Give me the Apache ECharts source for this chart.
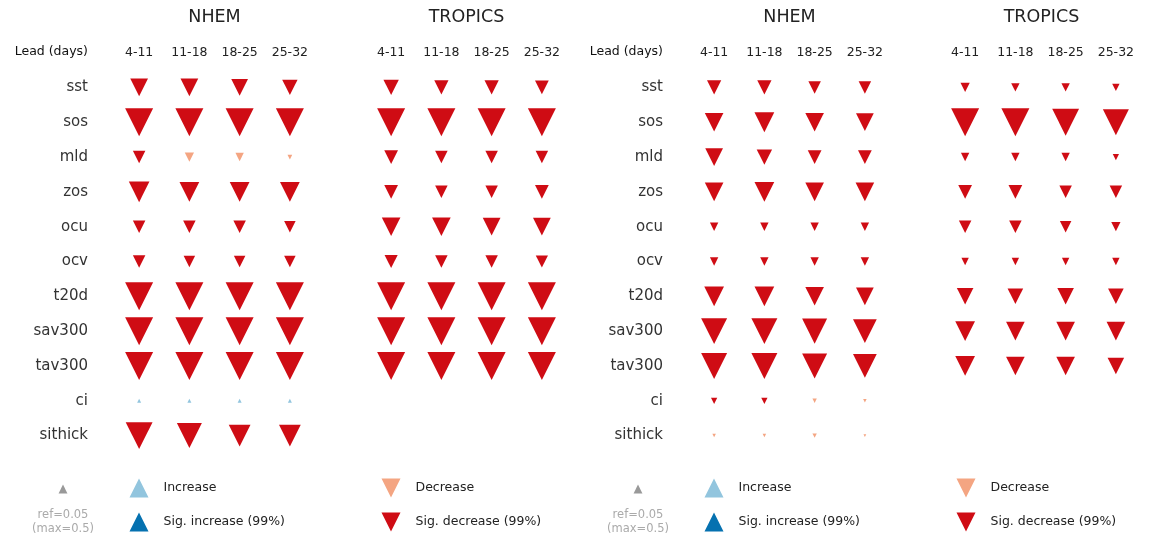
<!DOCTYPE html>
<html>
<head>
<meta charset="utf-8">
<script src="https://cdn.jsdelivr.net/npm/echarts@6/dist/echarts.min.js"></script>
<style>
  html, body { margin: 0; padding: 0; background: #ffffff; }
  #chart { width: 1168px; height: 540px; }
</style>
</head>
<body>
<div id="chart"></div>
<script>
// Forecast lead windows and the ocean / sea-ice variables tested
const leads = ['4-11', '11-18', '18-25', '25-32'];
const variables = ['sst', 'sos', 'mld', 'zos', 'ocu', 'ocv', 't20d', 'sav300', 'tav300', 'ci', 'sithick'];
const panelTitles = ['NHEM', 'TROPICS', 'NHEM', 'TROPICS'];

// Signed impact per variable (rows) and lead (columns); negative = decrease
const nhemLeft = [
  [-0.20, -0.20, -0.18, -0.15],
  [-0.50, -0.50, -0.50, -0.50],
  [-0.10, -0.055, -0.045, -0.014],
  [-0.27, -0.25, -0.25, -0.25],
  [-0.10, -0.10, -0.10, -0.085],
  [-0.10, -0.085, -0.085, -0.085],
  [-0.50, -0.50, -0.50, -0.50],
  [-0.50, -0.50, -0.50, -0.50],
  [-0.50, -0.50, -0.50, -0.50],
  [0.01, 0.01, 0.01, 0.01],
  [-0.46, -0.40, -0.30, -0.30]
];
const nhemLeftSig = [
  [1, 1, 1, 1], [1, 1, 1, 1], [1, 0, 0, 0], [1, 1, 1, 1], [1, 1, 1, 1], [1, 1, 1, 1],
  [1, 1, 1, 1], [1, 1, 1, 1], [1, 1, 1, 1], [0, 0, 0, 0], [1, 1, 1, 1]
];

const tropicsLeft = [
  [-0.15, -0.13, -0.13, -0.12],
  [-0.50, -0.50, -0.50, -0.50],
  [-0.12, -0.10, -0.10, -0.10],
  [-0.12, -0.10, -0.10, -0.12],
  [-0.22, -0.22, -0.20, -0.20],
  [-0.11, -0.10, -0.10, -0.095],
  [-0.50, -0.50, -0.50, -0.50],
  [-0.50, -0.50, -0.50, -0.50],
  [-0.50, -0.50, -0.50, -0.50],
  [null, null, null, null],
  [null, null, null, null]
];
const tropicsLeftSig = [
  [1, 1, 1, 1], [1, 1, 1, 1], [1, 1, 1, 1], [1, 1, 1, 1], [1, 1, 1, 1], [1, 1, 1, 1],
  [1, 1, 1, 1], [1, 1, 1, 1], [1, 1, 1, 1], [0, 0, 0, 0], [0, 0, 0, 0]
];

const nhemRight = [
  [-0.13, -0.13, -0.10, -0.10],
  [-0.22, -0.25, -0.22, -0.20],
  [-0.20, -0.15, -0.12, -0.12],
  [-0.22, -0.25, -0.22, -0.22],
  [-0.045, -0.045, -0.045, -0.045],
  [-0.045, -0.045, -0.045, -0.045],
  [-0.25, -0.25, -0.22, -0.20],
  [-0.43, -0.43, -0.40, -0.36],
  [-0.43, -0.43, -0.40, -0.36],
  [-0.025, -0.025, -0.012, -0.008],
  [-0.008, -0.008, -0.012, -0.005]
];
const nhemRightSig = [
  [1, 1, 1, 1], [1, 1, 1, 1], [1, 1, 1, 1], [1, 1, 1, 1], [1, 1, 1, 1], [1, 1, 1, 1],
  [1, 1, 1, 1], [1, 1, 1, 1], [1, 1, 1, 1], [1, 1, 0, 0], [0, 0, 0, 0]
];

const tropicsRight = [
  [-0.055, -0.045, -0.045, -0.035],
  [-0.50, -0.50, -0.46, -0.43],
  [-0.045, -0.045, -0.045, -0.025],
  [-0.12, -0.12, -0.10, -0.10],
  [-0.10, -0.10, -0.085, -0.055],
  [-0.035, -0.035, -0.035, -0.035],
  [-0.175, -0.155, -0.175, -0.155],
  [-0.25, -0.22, -0.22, -0.22],
  [-0.25, -0.22, -0.22, -0.175],
  [null, null, null, null],
  [null, null, null, null]
];
const tropicsRightSig = [
  [1, 1, 1, 1], [1, 1, 1, 1], [1, 1, 1, 1], [1, 1, 1, 1], [1, 1, 1, 1], [1, 1, 1, 1],
  [1, 1, 1, 1], [1, 1, 1, 1], [1, 1, 1, 1], [0, 0, 0, 0], [0, 0, 0, 0]
];

// Marker scale: triangle area grows with |impact|, clipped at MAX_VALUE
const REF_VALUE = 0.05;
const MAX_VALUE = 0.5;
const MAX_SIZE = 28;
function markSize(v) {
  return MAX_SIZE * Math.sqrt(Math.min(Math.abs(v), MAX_VALUE) / MAX_VALUE);
}

const FONT = 'DejaVu Sans';
const classes = [
  { name: 'Sig. decrease (99%)', color: '#cf0c14', down: true,  test: (v, s) => v < 0 && s },
  { name: 'Decrease',            color: '#f4a582', down: true,  test: (v, s) => v < 0 && !s },
  { name: 'Increase',            color: '#92c5de', down: false, test: (v, s) => v > 0 && !s },
  { name: 'Sig. increase (99%)', color: '#0571b0', down: false, test: (v, s) => v > 0 && s }
];
const DOWN_ICON = 'path://M0,0L2,0L1,2Z';

const panels = [
  { values: nhemLeft, sig: nhemLeftSig },
  { values: tropicsLeft, sig: tropicsLeftSig },
  { values: nhemRight, sig: nhemRightSig },
  { values: tropicsRight, sig: tropicsRightSig }
];
const gridLefts = [114, 366, 689, 940];
const GRID_TOP = 70, GRID_W = 201, GRID_H = 383;

const grids = [], xAxes = [], yAxes = [], series = [];
panels.forEach((panel, p) => {
  grids.push({ left: gridLefts[p], top: GRID_TOP, width: GRID_W, height: GRID_H });
  xAxes.push({
    gridIndex: p, type: 'category', data: leads, position: 'top',
    axisLine: { show: false }, axisTick: { show: false }, splitLine: { show: false },
    axisLabel: { fontSize: 12.5, color: '#222', margin: 11, fontFamily: FONT }
  });
  yAxes.push({
    gridIndex: p, type: 'category', data: variables, inverse: true,
    axisLine: { show: false }, axisTick: { show: false }, splitLine: { show: false },
    axisLabel: { show: p % 2 === 0, fontSize: 15, color: '#333', margin: 26, fontFamily: FONT }
  });
  classes.forEach(c => {
    const data = [];
    panel.values.forEach((row, r) => {
      row.forEach((v, l) => {
        if (v !== null && c.test(v, panel.sig[r][l] === 1)) data.push([l, r, v]);
      });
    });
    series.push({
      name: c.name, type: 'scatter', xAxisIndex: p, yAxisIndex: p,
      symbol: 'triangle', symbolRotate: c.down ? 180 : 0,
      symbolSize: val => markSize(val[2]),
      itemStyle: { color: c.color, opacity: 1 },
      silent: true, data: data
    });
  });
});

// Legend blocks, one per half of the figure
const legends = [];
const legendSlots = [
  { cls: 2, x: 139, y: 488 }, { cls: 3, x: 139, y: 522 },
  { cls: 1, x: 391, y: 488 }, { cls: 0, x: 391, y: 522 }
];
const halfOffsets = [0, 575];
halfOffsets.forEach(off => {
  legendSlots.forEach(s => {
    const c = classes[s.cls];
    legends.push({
      left: s.x + off - 9.5, top: s.y - 9.5, padding: 0,
      itemWidth: 19, itemHeight: 19, selectedMode: false,
      data: [{ name: c.name, icon: c.down ? DOWN_ICON : 'triangle' }],
      textStyle: { fontSize: 12.5, color: '#222', fontFamily: FONT, padding: [0, 0, 0, 10] }
    });
  });
});

const graphics = [];
const titleCenters = [214.5, 466.5, 789.5, 1041.5];
panelTitles.forEach((t, i) => {
  graphics.push({
    type: 'text', x: titleCenters[i], y: 17,
    style: { text: t, fill: '#222', font: '17.5px "DejaVu Sans"', textAlign: 'center', textVerticalAlign: 'middle' }
  });
});
halfOffsets.forEach(off => {
  graphics.push({
    type: 'text', x: 88 + off, y: 52,
    style: { text: 'Lead (days)', fill: '#111', font: '12.5px "DejaVu Sans"', textAlign: 'right', textVerticalAlign: 'middle' }
  });
  // reference marker for the size scale
  const h = markSize(REF_VALUE), cx = 63 + off, cy = 489;
  graphics.push({
    type: 'polygon',
    shape: { points: [[cx, cy - h / 2], [cx + h / 2, cy + h / 2], [cx - h / 2, cy + h / 2]] },
    style: { fill: '#999999' }
  });
  graphics.push({
    type: 'text', x: cx, y: 515,
    style: { text: 'ref=' + REF_VALUE, fill: '#aaaaaa', font: '11.5px "DejaVu Sans"', textAlign: 'center', textVerticalAlign: 'middle' }
  });
  graphics.push({
    type: 'text', x: cx, y: 529,
    style: { text: '(max=' + MAX_VALUE + ')', fill: '#aaaaaa', font: '11.5px "DejaVu Sans"', textAlign: 'center', textVerticalAlign: 'middle' }
  });
});

const chart = echarts.init(document.getElementById('chart'), null, { renderer: 'canvas' });
chart.setOption({
  animation: false,
  backgroundColor: '#ffffff',
  textStyle: { fontFamily: FONT },
  grid: grids,
  xAxis: xAxes,
  yAxis: yAxes,
  legend: legends,
  graphic: graphics,
  series: series
});
</script>
</body>
</html>
